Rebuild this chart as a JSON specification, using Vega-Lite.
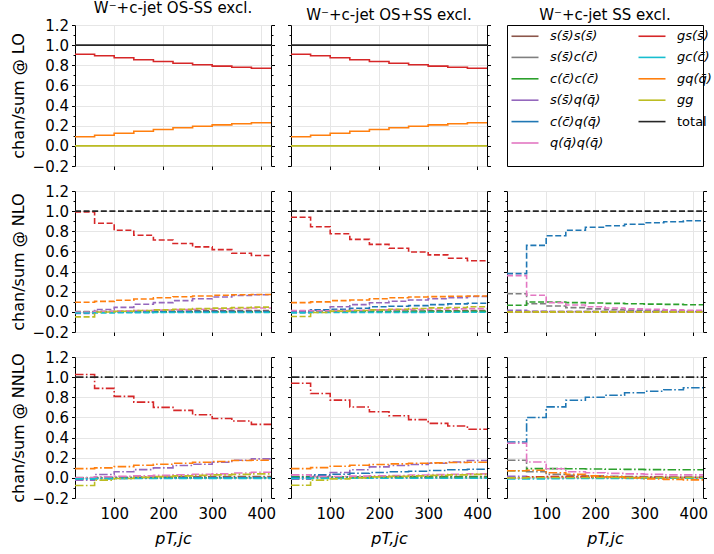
{
  "$schema": "https://vega.github.io/schema/vega-lite/v6.json",
  "padding": {"left": 9, "top": 0, "right": 2, "bottom": 2},
  "bounds": "flush",
  "columns": 3,
  "spacing": {"row": 25, "column": 20},
  "resolve": {"legend": {"color": "independent"}},
  "data": {"values": [
    {"p":"a1","k":"gs","x":20,"y":0.91},{"p":"a1","k":"gs","x":60,"y":0.895},{"p":"a1","k":"gs","x":100,"y":0.875},{"p":"a1","k":"gs","x":140,"y":0.855},{"p":"a1","k":"gs","x":180,"y":0.838},{"p":"a1","k":"gs","x":220,"y":0.82},{"p":"a1","k":"gs","x":260,"y":0.806},{"p":"a1","k":"gs","x":300,"y":0.792},{"p":"a1","k":"gs","x":340,"y":0.78},{"p":"a1","k":"gs","x":380,"y":0.77},{"p":"a1","k":"gs","x":420,"y":0.77},
    {"p":"a1","k":"gq","x":20,"y":0.09},{"p":"a1","k":"gq","x":60,"y":0.105},{"p":"a1","k":"gq","x":100,"y":0.125},{"p":"a1","k":"gq","x":140,"y":0.145},{"p":"a1","k":"gq","x":180,"y":0.162},{"p":"a1","k":"gq","x":220,"y":0.18},{"p":"a1","k":"gq","x":260,"y":0.194},{"p":"a1","k":"gq","x":300,"y":0.208},{"p":"a1","k":"gq","x":340,"y":0.22},{"p":"a1","k":"gq","x":380,"y":0.23},{"p":"a1","k":"gq","x":420,"y":0.23},
    {"p":"a1","k":"gg","x":20,"y":0},{"p":"a1","k":"gg","x":420,"y":0},
    {"p":"a1","k":"tot","x":20,"y":1},{"p":"a1","k":"tot","x":420,"y":1},

    {"p":"a2","k":"gs","x":20,"y":0.91},{"p":"a2","k":"gs","x":60,"y":0.895},{"p":"a2","k":"gs","x":100,"y":0.875},{"p":"a2","k":"gs","x":140,"y":0.855},{"p":"a2","k":"gs","x":180,"y":0.838},{"p":"a2","k":"gs","x":220,"y":0.82},{"p":"a2","k":"gs","x":260,"y":0.806},{"p":"a2","k":"gs","x":300,"y":0.792},{"p":"a2","k":"gs","x":340,"y":0.78},{"p":"a2","k":"gs","x":380,"y":0.77},{"p":"a2","k":"gs","x":420,"y":0.77},
    {"p":"a2","k":"gq","x":20,"y":0.09},{"p":"a2","k":"gq","x":60,"y":0.105},{"p":"a2","k":"gq","x":100,"y":0.125},{"p":"a2","k":"gq","x":140,"y":0.145},{"p":"a2","k":"gq","x":180,"y":0.162},{"p":"a2","k":"gq","x":220,"y":0.18},{"p":"a2","k":"gq","x":260,"y":0.194},{"p":"a2","k":"gq","x":300,"y":0.208},{"p":"a2","k":"gq","x":340,"y":0.22},{"p":"a2","k":"gq","x":380,"y":0.23},{"p":"a2","k":"gq","x":420,"y":0.23},
    {"p":"a2","k":"gg","x":20,"y":0},{"p":"a2","k":"gg","x":420,"y":0},
    {"p":"a2","k":"tot","x":20,"y":1},{"p":"a2","k":"tot","x":420,"y":1},

    {"p":"b1","k":"ss","x":20,"y":0},{"p":"b1","k":"ss","x":60,"y":0.002},{"p":"b1","k":"ss","x":100,"y":0.004},{"p":"b1","k":"ss","x":140,"y":0.006},{"p":"b1","k":"ss","x":180,"y":0.007},{"p":"b1","k":"ss","x":220,"y":0.009},{"p":"b1","k":"ss","x":260,"y":0.01},{"p":"b1","k":"ss","x":300,"y":0.011},{"p":"b1","k":"ss","x":340,"y":0.012},{"p":"b1","k":"ss","x":380,"y":0.013},{"p":"b1","k":"ss","x":420,"y":0.013},
    {"p":"b1","k":"sc","x":20,"y":0.002},{"p":"b1","k":"sc","x":420,"y":0.002},
    {"p":"b1","k":"cc","x":20,"y":0},{"p":"b1","k":"cc","x":420,"y":0},
    {"p":"b1","k":"sq","x":20,"y":-0.016},{"p":"b1","k":"sq","x":60,"y":0.024},{"p":"b1","k":"sq","x":100,"y":0.045},{"p":"b1","k":"sq","x":140,"y":0.075},{"p":"b1","k":"sq","x":180,"y":0.092},{"p":"b1","k":"sq","x":220,"y":0.112},{"p":"b1","k":"sq","x":260,"y":0.13},{"p":"b1","k":"sq","x":300,"y":0.147},{"p":"b1","k":"sq","x":340,"y":0.162},{"p":"b1","k":"sq","x":380,"y":0.17},{"p":"b1","k":"sq","x":420,"y":0.17},
    {"p":"b1","k":"cq","x":20,"y":-0.008},{"p":"b1","k":"cq","x":60,"y":-0.004},{"p":"b1","k":"cq","x":100,"y":-0.002},{"p":"b1","k":"cq","x":140,"y":0},{"p":"b1","k":"cq","x":180,"y":0.001},{"p":"b1","k":"cq","x":220,"y":0.002},{"p":"b1","k":"cq","x":260,"y":0.002},{"p":"b1","k":"cq","x":300,"y":0.003},{"p":"b1","k":"cq","x":340,"y":0.003},{"p":"b1","k":"cq","x":380,"y":0.003},{"p":"b1","k":"cq","x":420,"y":0.003},
    {"p":"b1","k":"qq","x":20,"y":-0.003},{"p":"b1","k":"qq","x":60,"y":0.004},{"p":"b1","k":"qq","x":100,"y":0.009},{"p":"b1","k":"qq","x":140,"y":0.014},{"p":"b1","k":"qq","x":180,"y":0.018},{"p":"b1","k":"qq","x":220,"y":0.022},{"p":"b1","k":"qq","x":260,"y":0.026},{"p":"b1","k":"qq","x":300,"y":0.03},{"p":"b1","k":"qq","x":340,"y":0.034},{"p":"b1","k":"qq","x":380,"y":0.038},{"p":"b1","k":"qq","x":420,"y":0.038},
    {"p":"b1","k":"gs","x":20,"y":0.993},{"p":"b1","k":"gs","x":60,"y":0.88},{"p":"b1","k":"gs","x":100,"y":0.81},{"p":"b1","k":"gs","x":140,"y":0.76},{"p":"b1","k":"gs","x":180,"y":0.714},{"p":"b1","k":"gs","x":220,"y":0.678},{"p":"b1","k":"gs","x":260,"y":0.645},{"p":"b1","k":"gs","x":300,"y":0.618},{"p":"b1","k":"gs","x":340,"y":0.582},{"p":"b1","k":"gs","x":380,"y":0.56},{"p":"b1","k":"gs","x":420,"y":0.56},
    {"p":"b1","k":"gc","x":20,"y":-0.012},{"p":"b1","k":"gc","x":60,"y":-0.01},{"p":"b1","k":"gc","x":100,"y":-0.009},{"p":"b1","k":"gc","x":140,"y":-0.008},{"p":"b1","k":"gc","x":180,"y":-0.007},{"p":"b1","k":"gc","x":220,"y":-0.007},{"p":"b1","k":"gc","x":260,"y":-0.006},{"p":"b1","k":"gc","x":420,"y":-0.006},
    {"p":"b1","k":"gq","x":20,"y":0.096},{"p":"b1","k":"gq","x":60,"y":0.104},{"p":"b1","k":"gq","x":100,"y":0.115},{"p":"b1","k":"gq","x":140,"y":0.127},{"p":"b1","k":"gq","x":180,"y":0.14},{"p":"b1","k":"gq","x":220,"y":0.15},{"p":"b1","k":"gq","x":260,"y":0.158},{"p":"b1","k":"gq","x":300,"y":0.165},{"p":"b1","k":"gq","x":340,"y":0.17},{"p":"b1","k":"gq","x":380,"y":0.173},{"p":"b1","k":"gq","x":420,"y":0.173},
    {"p":"b1","k":"gg","x":20,"y":-0.05},{"p":"b1","k":"gg","x":60,"y":-0.002},{"p":"b1","k":"gg","x":100,"y":0.006},{"p":"b1","k":"gg","x":140,"y":0.014},{"p":"b1","k":"gg","x":180,"y":0.02},{"p":"b1","k":"gg","x":220,"y":0.026},{"p":"b1","k":"gg","x":260,"y":0.032},{"p":"b1","k":"gg","x":300,"y":0.037},{"p":"b1","k":"gg","x":340,"y":0.042},{"p":"b1","k":"gg","x":380,"y":0.047},{"p":"b1","k":"gg","x":420,"y":0.047},
    {"p":"b1","k":"tot","x":20,"y":1},{"p":"b1","k":"tot","x":420,"y":1},

    {"p":"b2","k":"ss","x":20,"y":0.002},{"p":"b2","k":"ss","x":60,"y":0.004},{"p":"b2","k":"ss","x":100,"y":0.005},{"p":"b2","k":"ss","x":140,"y":0.006},{"p":"b2","k":"ss","x":180,"y":0.007},{"p":"b2","k":"ss","x":220,"y":0.008},{"p":"b2","k":"ss","x":260,"y":0.009},{"p":"b2","k":"ss","x":300,"y":0.01},{"p":"b2","k":"ss","x":340,"y":0.011},{"p":"b2","k":"ss","x":380,"y":0.012},{"p":"b2","k":"ss","x":420,"y":0.012},
    {"p":"b2","k":"sc","x":20,"y":0.01},{"p":"b2","k":"sc","x":60,"y":0.005},{"p":"b2","k":"sc","x":100,"y":0.004},{"p":"b2","k":"sc","x":140,"y":0.003},{"p":"b2","k":"sc","x":260,"y":0.002},{"p":"b2","k":"sc","x":420,"y":0.002},
    {"p":"b2","k":"cc","x":20,"y":0.006},{"p":"b2","k":"cc","x":420,"y":0.006},
    {"p":"b2","k":"sq","x":20,"y":-0.005},{"p":"b2","k":"sq","x":60,"y":0.02},{"p":"b2","k":"sq","x":100,"y":0.05},{"p":"b2","k":"sq","x":140,"y":0.072},{"p":"b2","k":"sq","x":180,"y":0.09},{"p":"b2","k":"sq","x":220,"y":0.105},{"p":"b2","k":"sq","x":260,"y":0.118},{"p":"b2","k":"sq","x":300,"y":0.13},{"p":"b2","k":"sq","x":340,"y":0.14},{"p":"b2","k":"sq","x":380,"y":0.152},{"p":"b2","k":"sq","x":420,"y":0.152},
    {"p":"b2","k":"cq","x":20,"y":0},{"p":"b2","k":"cq","x":60,"y":0.02},{"p":"b2","k":"cq","x":100,"y":0.026},{"p":"b2","k":"cq","x":140,"y":0.036},{"p":"b2","k":"cq","x":180,"y":0.05},{"p":"b2","k":"cq","x":220,"y":0.056},{"p":"b2","k":"cq","x":260,"y":0.062},{"p":"b2","k":"cq","x":300,"y":0.072},{"p":"b2","k":"cq","x":340,"y":0.079},{"p":"b2","k":"cq","x":380,"y":0.085},{"p":"b2","k":"cq","x":420,"y":0.085},
    {"p":"b2","k":"qq","x":20,"y":0.012},{"p":"b2","k":"qq","x":60,"y":0.01},{"p":"b2","k":"qq","x":100,"y":0.012},{"p":"b2","k":"qq","x":140,"y":0.015},{"p":"b2","k":"qq","x":180,"y":0.02},{"p":"b2","k":"qq","x":220,"y":0.022},{"p":"b2","k":"qq","x":260,"y":0.025},{"p":"b2","k":"qq","x":300,"y":0.028},{"p":"b2","k":"qq","x":340,"y":0.03},{"p":"b2","k":"qq","x":380,"y":0.032},{"p":"b2","k":"qq","x":420,"y":0.032},
    {"p":"b2","k":"gs","x":20,"y":0.94},{"p":"b2","k":"gs","x":60,"y":0.845},{"p":"b2","k":"gs","x":100,"y":0.776},{"p":"b2","k":"gs","x":140,"y":0.72},{"p":"b2","k":"gs","x":180,"y":0.67},{"p":"b2","k":"gs","x":220,"y":0.632},{"p":"b2","k":"gs","x":260,"y":0.595},{"p":"b2","k":"gs","x":300,"y":0.566},{"p":"b2","k":"gs","x":340,"y":0.533},{"p":"b2","k":"gs","x":380,"y":0.507},{"p":"b2","k":"gs","x":420,"y":0.507},
    {"p":"b2","k":"gc","x":20,"y":-0.01},{"p":"b2","k":"gc","x":60,"y":-0.007},{"p":"b2","k":"gc","x":100,"y":-0.006},{"p":"b2","k":"gc","x":140,"y":-0.005},{"p":"b2","k":"gc","x":300,"y":-0.004},{"p":"b2","k":"gc","x":420,"y":-0.004},
    {"p":"b2","k":"gq","x":20,"y":0.092},{"p":"b2","k":"gq","x":60,"y":0.099},{"p":"b2","k":"gq","x":100,"y":0.112},{"p":"b2","k":"gq","x":140,"y":0.118},{"p":"b2","k":"gq","x":180,"y":0.13},{"p":"b2","k":"gq","x":220,"y":0.14},{"p":"b2","k":"gq","x":260,"y":0.148},{"p":"b2","k":"gq","x":300,"y":0.151},{"p":"b2","k":"gq","x":340,"y":0.155},{"p":"b2","k":"gq","x":380,"y":0.158},{"p":"b2","k":"gq","x":420,"y":0.158},
    {"p":"b2","k":"gg","x":20,"y":-0.046},{"p":"b2","k":"gg","x":60,"y":-0.007},{"p":"b2","k":"gg","x":100,"y":0.007},{"p":"b2","k":"gg","x":140,"y":0.013},{"p":"b2","k":"gg","x":180,"y":0.02},{"p":"b2","k":"gg","x":220,"y":0.026},{"p":"b2","k":"gg","x":260,"y":0.033},{"p":"b2","k":"gg","x":300,"y":0.04},{"p":"b2","k":"gg","x":340,"y":0.043},{"p":"b2","k":"gg","x":380,"y":0.05},{"p":"b2","k":"gg","x":420,"y":0.05},
    {"p":"b2","k":"tot","x":20,"y":1},{"p":"b2","k":"tot","x":420,"y":1},

    {"p":"b3","k":"ss","x":20,"y":0.003},{"p":"b3","k":"ss","x":420,"y":0.003},
    {"p":"b3","k":"sc","x":20,"y":0.18},{"p":"b3","k":"sc","x":60,"y":0.08},{"p":"b3","k":"sc","x":100,"y":0.058},{"p":"b3","k":"sc","x":140,"y":0.042},{"p":"b3","k":"sc","x":180,"y":0.03},{"p":"b3","k":"sc","x":220,"y":0.022},{"p":"b3","k":"sc","x":260,"y":0.017},{"p":"b3","k":"sc","x":300,"y":0.013},{"p":"b3","k":"sc","x":340,"y":0.011},{"p":"b3","k":"sc","x":380,"y":0.01},{"p":"b3","k":"sc","x":420,"y":0.01},
    {"p":"b3","k":"cc","x":20,"y":0.065},{"p":"b3","k":"cc","x":60,"y":0.098},{"p":"b3","k":"cc","x":100,"y":0.098},{"p":"b3","k":"cc","x":140,"y":0.092},{"p":"b3","k":"cc","x":180,"y":0.088},{"p":"b3","k":"cc","x":220,"y":0.084},{"p":"b3","k":"cc","x":260,"y":0.08},{"p":"b3","k":"cc","x":300,"y":0.077},{"p":"b3","k":"cc","x":340,"y":0.074},{"p":"b3","k":"cc","x":380,"y":0.07},{"p":"b3","k":"cc","x":420,"y":0.07},
    {"p":"b3","k":"sq","x":20,"y":0.015},{"p":"b3","k":"sq","x":60,"y":0.005},{"p":"b3","k":"sq","x":100,"y":0.004},{"p":"b3","k":"sq","x":140,"y":0.003},{"p":"b3","k":"sq","x":220,"y":0.002},{"p":"b3","k":"sq","x":420,"y":0.002},
    {"p":"b3","k":"cq","x":20,"y":0.38},{"p":"b3","k":"cq","x":60,"y":0.66},{"p":"b3","k":"cq","x":100,"y":0.755},{"p":"b3","k":"cq","x":140,"y":0.81},{"p":"b3","k":"cq","x":180,"y":0.84},{"p":"b3","k":"cq","x":220,"y":0.855},{"p":"b3","k":"cq","x":260,"y":0.87},{"p":"b3","k":"cq","x":300,"y":0.885},{"p":"b3","k":"cq","x":340,"y":0.895},{"p":"b3","k":"cq","x":380,"y":0.905},{"p":"b3","k":"cq","x":420,"y":0.905},
    {"p":"b3","k":"qq","x":20,"y":0.36},{"p":"b3","k":"qq","x":60,"y":0.165},{"p":"b3","k":"qq","x":100,"y":0.092},{"p":"b3","k":"qq","x":140,"y":0.068},{"p":"b3","k":"qq","x":180,"y":0.05},{"p":"b3","k":"qq","x":220,"y":0.038},{"p":"b3","k":"qq","x":260,"y":0.03},{"p":"b3","k":"qq","x":300,"y":0.025},{"p":"b3","k":"qq","x":340,"y":0.02},{"p":"b3","k":"qq","x":380,"y":0.016},{"p":"b3","k":"qq","x":420,"y":0.016},
    {"p":"b3","k":"gs","x":20,"y":0},{"p":"b3","k":"gs","x":420,"y":0},
    {"p":"b3","k":"gc","x":20,"y":-0.002},{"p":"b3","k":"gc","x":420,"y":-0.002},
    {"p":"b3","k":"gq","x":20,"y":0},{"p":"b3","k":"gq","x":420,"y":0},
    {"p":"b3","k":"gg","x":20,"y":0},{"p":"b3","k":"gg","x":420,"y":0},
    {"p":"b3","k":"tot","x":20,"y":1},{"p":"b3","k":"tot","x":420,"y":1},

    {"p":"c1","k":"ss","x":20,"y":0},{"p":"c1","k":"ss","x":60,"y":0.003},{"p":"c1","k":"ss","x":100,"y":0.005},{"p":"c1","k":"ss","x":140,"y":0.007},{"p":"c1","k":"ss","x":180,"y":0.009},{"p":"c1","k":"ss","x":220,"y":0.01},{"p":"c1","k":"ss","x":260,"y":0.011},{"p":"c1","k":"ss","x":300,"y":0.012},{"p":"c1","k":"ss","x":340,"y":0.013},{"p":"c1","k":"ss","x":380,"y":0.014},{"p":"c1","k":"ss","x":420,"y":0.014},
    {"p":"c1","k":"sc","x":20,"y":0.002},{"p":"c1","k":"sc","x":420,"y":0.002},
    {"p":"c1","k":"cc","x":20,"y":0},{"p":"c1","k":"cc","x":420,"y":0},
    {"p":"c1","k":"sq","x":20,"y":-0.023},{"p":"c1","k":"sq","x":60,"y":0.033},{"p":"c1","k":"sq","x":100,"y":0.06},{"p":"c1","k":"sq","x":140,"y":0.082},{"p":"c1","k":"sq","x":180,"y":0.099},{"p":"c1","k":"sq","x":220,"y":0.122},{"p":"c1","k":"sq","x":260,"y":0.135},{"p":"c1","k":"sq","x":300,"y":0.155},{"p":"c1","k":"sq","x":340,"y":0.175},{"p":"c1","k":"sq","x":380,"y":0.188},{"p":"c1","k":"sq","x":420,"y":0.188},
    {"p":"c1","k":"cq","x":20,"y":-0.01},{"p":"c1","k":"cq","x":60,"y":-0.008},{"p":"c1","k":"cq","x":100,"y":-0.005},{"p":"c1","k":"cq","x":140,"y":-0.003},{"p":"c1","k":"cq","x":180,"y":-0.002},{"p":"c1","k":"cq","x":220,"y":0},{"p":"c1","k":"cq","x":300,"y":0.001},{"p":"c1","k":"cq","x":420,"y":0.001},
    {"p":"c1","k":"qq","x":20,"y":0},{"p":"c1","k":"qq","x":60,"y":0.01},{"p":"c1","k":"qq","x":100,"y":0.015},{"p":"c1","k":"qq","x":140,"y":0.02},{"p":"c1","k":"qq","x":180,"y":0.025},{"p":"c1","k":"qq","x":220,"y":0.03},{"p":"c1","k":"qq","x":260,"y":0.035},{"p":"c1","k":"qq","x":300,"y":0.04},{"p":"c1","k":"qq","x":340,"y":0.048},{"p":"c1","k":"qq","x":380,"y":0.055},{"p":"c1","k":"qq","x":420,"y":0.055},
    {"p":"c1","k":"gs","x":20,"y":1.026},{"p":"c1","k":"gs","x":60,"y":0.888},{"p":"c1","k":"gs","x":100,"y":0.809},{"p":"c1","k":"gs","x":140,"y":0.752},{"p":"c1","k":"gs","x":180,"y":0.7},{"p":"c1","k":"gs","x":220,"y":0.67},{"p":"c1","k":"gs","x":260,"y":0.627},{"p":"c1","k":"gs","x":300,"y":0.59},{"p":"c1","k":"gs","x":340,"y":0.564},{"p":"c1","k":"gs","x":380,"y":0.531},{"p":"c1","k":"gs","x":420,"y":0.531},
    {"p":"c1","k":"gc","x":20,"y":-0.01},{"p":"c1","k":"gc","x":60,"y":-0.008},{"p":"c1","k":"gc","x":100,"y":-0.007},{"p":"c1","k":"gc","x":140,"y":-0.006},{"p":"c1","k":"gc","x":220,"y":-0.005},{"p":"c1","k":"gc","x":420,"y":-0.005},
    {"p":"c1","k":"gq","x":20,"y":0.092},{"p":"c1","k":"gq","x":60,"y":0.099},{"p":"c1","k":"gq","x":100,"y":0.112},{"p":"c1","k":"gq","x":140,"y":0.125},{"p":"c1","k":"gq","x":180,"y":0.135},{"p":"c1","k":"gq","x":220,"y":0.145},{"p":"c1","k":"gq","x":260,"y":0.155},{"p":"c1","k":"gq","x":300,"y":0.162},{"p":"c1","k":"gq","x":340,"y":0.172},{"p":"c1","k":"gq","x":380,"y":0.175},{"p":"c1","k":"gq","x":420,"y":0.175},
    {"p":"c1","k":"gg","x":20,"y":-0.076},{"p":"c1","k":"gg","x":60,"y":-0.023},{"p":"c1","k":"gg","x":100,"y":-0.007},{"p":"c1","k":"gg","x":140,"y":0.005},{"p":"c1","k":"gg","x":180,"y":0.012},{"p":"c1","k":"gg","x":220,"y":0.02},{"p":"c1","k":"gg","x":260,"y":0.025},{"p":"c1","k":"gg","x":300,"y":0.03},{"p":"c1","k":"gg","x":340,"y":0.035},{"p":"c1","k":"gg","x":380,"y":0.04},{"p":"c1","k":"gg","x":420,"y":0.04},
    {"p":"c1","k":"tot","x":20,"y":1},{"p":"c1","k":"tot","x":420,"y":1},

    {"p":"c2","k":"ss","x":20,"y":0.005},{"p":"c2","k":"ss","x":60,"y":0.006},{"p":"c2","k":"ss","x":100,"y":0.007},{"p":"c2","k":"ss","x":140,"y":0.008},{"p":"c2","k":"ss","x":180,"y":0.009},{"p":"c2","k":"ss","x":220,"y":0.01},{"p":"c2","k":"ss","x":260,"y":0.011},{"p":"c2","k":"ss","x":300,"y":0.012},{"p":"c2","k":"ss","x":380,"y":0.013},{"p":"c2","k":"ss","x":420,"y":0.013},
    {"p":"c2","k":"sc","x":20,"y":0.012},{"p":"c2","k":"sc","x":60,"y":0.005},{"p":"c2","k":"sc","x":100,"y":0.004},{"p":"c2","k":"sc","x":140,"y":0.003},{"p":"c2","k":"sc","x":260,"y":0.002},{"p":"c2","k":"sc","x":420,"y":0.002},
    {"p":"c2","k":"cc","x":20,"y":0.01},{"p":"c2","k":"cc","x":60,"y":0.008},{"p":"c2","k":"cc","x":420,"y":0.008},
    {"p":"c2","k":"sq","x":20,"y":-0.013},{"p":"c2","k":"sq","x":60,"y":0.02},{"p":"c2","k":"sq","x":100,"y":0.053},{"p":"c2","k":"sq","x":140,"y":0.08},{"p":"c2","k":"sq","x":180,"y":0.109},{"p":"c2","k":"sq","x":220,"y":0.122},{"p":"c2","k":"sq","x":260,"y":0.132},{"p":"c2","k":"sq","x":300,"y":0.145},{"p":"c2","k":"sq","x":340,"y":0.158},{"p":"c2","k":"sq","x":380,"y":0.172},{"p":"c2","k":"sq","x":420,"y":0.172},
    {"p":"c2","k":"cq","x":20,"y":0.003},{"p":"c2","k":"cq","x":60,"y":0.03},{"p":"c2","k":"cq","x":100,"y":0.036},{"p":"c2","k":"cq","x":140,"y":0.046},{"p":"c2","k":"cq","x":180,"y":0.053},{"p":"c2","k":"cq","x":220,"y":0.06},{"p":"c2","k":"cq","x":260,"y":0.066},{"p":"c2","k":"cq","x":300,"y":0.073},{"p":"c2","k":"cq","x":340,"y":0.08},{"p":"c2","k":"cq","x":380,"y":0.086},{"p":"c2","k":"cq","x":420,"y":0.086},
    {"p":"c2","k":"qq","x":20,"y":0.03},{"p":"c2","k":"qq","x":60,"y":0.012},{"p":"c2","k":"qq","x":100,"y":0.014},{"p":"c2","k":"qq","x":140,"y":0.017},{"p":"c2","k":"qq","x":180,"y":0.02},{"p":"c2","k":"qq","x":220,"y":0.024},{"p":"c2","k":"qq","x":260,"y":0.028},{"p":"c2","k":"qq","x":300,"y":0.032},{"p":"c2","k":"qq","x":340,"y":0.036},{"p":"c2","k":"qq","x":380,"y":0.04},{"p":"c2","k":"qq","x":420,"y":0.04},
    {"p":"c2","k":"gs","x":20,"y":0.94},{"p":"c2","k":"gs","x":60,"y":0.838},{"p":"c2","k":"gs","x":100,"y":0.772},{"p":"c2","k":"gs","x":140,"y":0.703},{"p":"c2","k":"gs","x":180,"y":0.657},{"p":"c2","k":"gs","x":220,"y":0.617},{"p":"c2","k":"gs","x":260,"y":0.578},{"p":"c2","k":"gs","x":300,"y":0.541},{"p":"c2","k":"gs","x":340,"y":0.515},{"p":"c2","k":"gs","x":380,"y":0.482},{"p":"c2","k":"gs","x":420,"y":0.482},
    {"p":"c2","k":"gc","x":20,"y":-0.006},{"p":"c2","k":"gc","x":60,"y":-0.005},{"p":"c2","k":"gc","x":140,"y":-0.004},{"p":"c2","k":"gc","x":420,"y":-0.004},
    {"p":"c2","k":"gq","x":20,"y":0.092},{"p":"c2","k":"gq","x":60,"y":0.102},{"p":"c2","k":"gq","x":100,"y":0.115},{"p":"c2","k":"gq","x":140,"y":0.125},{"p":"c2","k":"gq","x":180,"y":0.132},{"p":"c2","k":"gq","x":220,"y":0.139},{"p":"c2","k":"gq","x":260,"y":0.145},{"p":"c2","k":"gq","x":300,"y":0.149},{"p":"c2","k":"gq","x":340,"y":0.152},{"p":"c2","k":"gq","x":380,"y":0.155},{"p":"c2","k":"gq","x":420,"y":0.155},
    {"p":"c2","k":"gg","x":20,"y":-0.073},{"p":"c2","k":"gg","x":60,"y":-0.023},{"p":"c2","k":"gg","x":100,"y":-0.01},{"p":"c2","k":"gg","x":140,"y":0},{"p":"c2","k":"gg","x":180,"y":0.01},{"p":"c2","k":"gg","x":220,"y":0.015},{"p":"c2","k":"gg","x":260,"y":0.02},{"p":"c2","k":"gg","x":300,"y":0.025},{"p":"c2","k":"gg","x":340,"y":0.03},{"p":"c2","k":"gg","x":380,"y":0.035},{"p":"c2","k":"gg","x":420,"y":0.035},
    {"p":"c2","k":"tot","x":20,"y":1},{"p":"c2","k":"tot","x":420,"y":1},

    {"p":"c3","k":"ss","x":20,"y":0.002},{"p":"c3","k":"ss","x":420,"y":0.002},
    {"p":"c3","k":"sc","x":20,"y":0.175},{"p":"c3","k":"sc","x":60,"y":0.06},{"p":"c3","k":"sc","x":100,"y":0.035},{"p":"c3","k":"sc","x":140,"y":0.025},{"p":"c3","k":"sc","x":180,"y":0.02},{"p":"c3","k":"sc","x":220,"y":0.015},{"p":"c3","k":"sc","x":260,"y":0.012},{"p":"c3","k":"sc","x":300,"y":0.01},{"p":"c3","k":"sc","x":340,"y":0.008},{"p":"c3","k":"sc","x":380,"y":0.007},{"p":"c3","k":"sc","x":420,"y":0.007},
    {"p":"c3","k":"cc","x":20,"y":0.07},{"p":"c3","k":"cc","x":60,"y":0.092},{"p":"c3","k":"cc","x":100,"y":0.092},{"p":"c3","k":"cc","x":140,"y":0.09},{"p":"c3","k":"cc","x":180,"y":0.088},{"p":"c3","k":"cc","x":220,"y":0.086},{"p":"c3","k":"cc","x":260,"y":0.084},{"p":"c3","k":"cc","x":300,"y":0.082},{"p":"c3","k":"cc","x":340,"y":0.081},{"p":"c3","k":"cc","x":380,"y":0.08},{"p":"c3","k":"cc","x":420,"y":0.08},
    {"p":"c3","k":"sq","x":20,"y":0.015},{"p":"c3","k":"sq","x":60,"y":0.006},{"p":"c3","k":"sq","x":100,"y":0.005},{"p":"c3","k":"sq","x":140,"y":0.004},{"p":"c3","k":"sq","x":220,"y":0.003},{"p":"c3","k":"sq","x":420,"y":0.003},
    {"p":"c3","k":"cq","x":20,"y":0.356},{"p":"c3","k":"cq","x":60,"y":0.6},{"p":"c3","k":"cq","x":100,"y":0.705},{"p":"c3","k":"cq","x":140,"y":0.77},{"p":"c3","k":"cq","x":180,"y":0.8},{"p":"c3","k":"cq","x":220,"y":0.82},{"p":"c3","k":"cq","x":260,"y":0.845},{"p":"c3","k":"cq","x":300,"y":0.86},{"p":"c3","k":"cq","x":340,"y":0.875},{"p":"c3","k":"cq","x":380,"y":0.895},{"p":"c3","k":"cq","x":420,"y":0.895},
    {"p":"c3","k":"qq","x":20,"y":0.343},{"p":"c3","k":"qq","x":60,"y":0.158},{"p":"c3","k":"qq","x":100,"y":0.09},{"p":"c3","k":"qq","x":140,"y":0.06},{"p":"c3","k":"qq","x":180,"y":0.05},{"p":"c3","k":"qq","x":220,"y":0.045},{"p":"c3","k":"qq","x":260,"y":0.04},{"p":"c3","k":"qq","x":300,"y":0.035},{"p":"c3","k":"qq","x":340,"y":0.03},{"p":"c3","k":"qq","x":420,"y":0.03},
    {"p":"c3","k":"gs","x":20,"y":0},{"p":"c3","k":"gs","x":60,"y":0.01},{"p":"c3","k":"gs","x":100,"y":0.012},{"p":"c3","k":"gs","x":180,"y":0.01},{"p":"c3","k":"gs","x":220,"y":0.008},{"p":"c3","k":"gs","x":260,"y":0.006},{"p":"c3","k":"gs","x":300,"y":0.005},{"p":"c3","k":"gs","x":340,"y":0.004},{"p":"c3","k":"gs","x":420,"y":0.004},
    {"p":"c3","k":"gc","x":20,"y":-0.012},{"p":"c3","k":"gc","x":60,"y":-0.01},{"p":"c3","k":"gc","x":100,"y":-0.008},{"p":"c3","k":"gc","x":140,"y":-0.007},{"p":"c3","k":"gc","x":180,"y":-0.006},{"p":"c3","k":"gc","x":220,"y":-0.005},{"p":"c3","k":"gc","x":300,"y":-0.004},{"p":"c3","k":"gc","x":420,"y":-0.004},
    {"p":"c3","k":"gq","x":20,"y":0.07},{"p":"c3","k":"gq","x":60,"y":0.075},{"p":"c3","k":"gq","x":100,"y":0.05},{"p":"c3","k":"gq","x":140,"y":0.035},{"p":"c3","k":"gq","x":180,"y":0.02},{"p":"c3","k":"gq","x":220,"y":0.01},{"p":"c3","k":"gq","x":260,"y":0},{"p":"c3","k":"gq","x":300,"y":-0.01},{"p":"c3","k":"gq","x":340,"y":-0.015},{"p":"c3","k":"gq","x":380,"y":-0.02},{"p":"c3","k":"gq","x":420,"y":-0.02},
    {"p":"c3","k":"gg","x":20,"y":0},{"p":"c3","k":"gg","x":60,"y":0.003},{"p":"c3","k":"gg","x":420,"y":0.003},
    {"p":"c3","k":"tot","x":20,"y":1},{"p":"c3","k":"tot","x":420,"y":1}
  ]},
  "concat": [
    {
      "width": 196, "height": 141,
      "title": "W\u207b+c-jet OS-SS excl.",
      "transform": [{"filter": "datum.p === 'a1'"}],
      "encoding": {
        "x": {"field": "x", "type": "quantitative", "scale": {"domain": [20, 420], "nice": false, "zero": false}, "axis": {"values": [100, 200, 300, 400], "labels": false, "title": null, "tickSize": 3.5}},
        "color": {"field": "k", "type": "nominal", "legend": null, "scale": {"domain": ["ss","sc","cc","sq","cq","qq","gs","gc","gq","gg","tot"], "range": ["#8c564b","#7f7f7f","#2ca02c","#9467bd","#1f77b4","#e377c2","#d62728","#17becf","#ff7f0e","#bcbd22","#262626"]}}
      },
      "layer": [
        {"transform": [{"filter": "datum.k !== 'tot'"}], "mark": {"type": "line", "interpolate": "step-after"},
         "encoding": {"y": {"field": "y", "type": "quantitative", "scale": {"domain": [-0.2, 1.2], "nice": false, "zero": false},
           "axis": {"values": [-0.2,-0.1,0,0.1,0.2,0.3,0.4,0.5,0.6,0.7,0.8,0.9,1,1.1,1.2], "title": "chan/sum @ LO", "labelExpr": "round(datum.value*10)%2 !== 0 ? '' : format(datum.value, '.1f')", "tickSize": {"condition": {"test": "round(datum.value*10)%2 !== 0", "value": 2}, "value": 3.5}, "gridOpacity": {"condition": {"test": "round(datum.value*10)%2 !== 0", "value": 0}, "value": 1}}}}},
        {"transform": [{"filter": "datum.k === 'tot'"}], "mark": {"type": "line", "interpolate": "step-after"},
         "encoding": {"y": {"field": "y", "type": "quantitative", "scale": {"domain": [-0.2, 1.2], "nice": false, "zero": false},
           "axis": {"orient": "right", "values": [-0.2,-0.1,0,0.1,0.2,0.3,0.4,0.5,0.6,0.7,0.8,0.9,1,1.1,1.2], "labels": false, "title": null, "grid": false, "tickSize": {"condition": {"test": "round(datum.value*10)%2 !== 0", "value": 2}, "value": 3.5}}}}}
      ],
      "resolve": {"axis": {"y": "independent"}}
    },
    {
      "width": 196, "height": 141,
      "title": "W\u207b+c-jet OS+SS excl.",
      "transform": [{"filter": "datum.p === 'a2'"}],
      "encoding": {
        "x": {"field": "x", "type": "quantitative", "scale": {"domain": [20, 420], "nice": false, "zero": false}, "axis": {"values": [100, 200, 300, 400], "labels": false, "title": null, "tickSize": 3.5}},
        "color": {"field": "k", "type": "nominal", "legend": null, "scale": {"domain": ["ss","sc","cc","sq","cq","qq","gs","gc","gq","gg","tot"], "range": ["#8c564b","#7f7f7f","#2ca02c","#9467bd","#1f77b4","#e377c2","#d62728","#17becf","#ff7f0e","#bcbd22","#262626"]}}
      },
      "layer": [
        {"transform": [{"filter": "datum.k !== 'tot'"}], "mark": {"type": "line", "interpolate": "step-after"},
         "encoding": {"y": {"field": "y", "type": "quantitative", "scale": {"domain": [-0.2, 1.2], "nice": false, "zero": false},
           "axis": {"values": [-0.2,-0.1,0,0.1,0.2,0.3,0.4,0.5,0.6,0.7,0.8,0.9,1,1.1,1.2], "labels": false, "title": null, "tickSize": {"condition": {"test": "round(datum.value*10)%2 !== 0", "value": 2}, "value": 3.5}, "gridOpacity": {"condition": {"test": "round(datum.value*10)%2 !== 0", "value": 0}, "value": 1}}}}},
        {"transform": [{"filter": "datum.k === 'tot'"}], "mark": {"type": "line", "interpolate": "step-after"},
         "encoding": {"y": {"field": "y", "type": "quantitative", "scale": {"domain": [-0.2, 1.2], "nice": false, "zero": false},
           "axis": {"orient": "right", "values": [-0.2,-0.1,0,0.1,0.2,0.3,0.4,0.5,0.6,0.7,0.8,0.9,1,1.1,1.2], "labels": false, "title": null, "grid": false, "tickSize": {"condition": {"test": "round(datum.value*10)%2 !== 0", "value": 2}, "value": 3.5}}}}}
      ],
      "resolve": {"axis": {"y": "independent"}}
    },
    {
      "width": 196, "height": 141,
      "title": "W\u207b+c-jet SS excl.",
      "transform": [{"filter": "datum.p === 'none'"}],
      "mark": {"type": "line"},
      "encoding": {
        "x": {"field": "x", "type": "quantitative", "scale": {"domain": [20, 420]}, "axis": null},
        "y": {"field": "y", "type": "quantitative", "scale": {"domain": [-0.2, 1.2]}, "axis": null},
        "color": {"field": "k", "type": "nominal",
          "scale": {"domain": ["ss","sc","cc","sq","cq","qq","gs","gc","gq","gg","tot"], "range": ["#8c564b","#7f7f7f","#2ca02c","#9467bd","#1f77b4","#e377c2","#d62728","#17becf","#ff7f0e","#bcbd22","#262626"]},
          "legend": {
            "orient": "none", "legendX": 11.5, "legendY": 4.5, "title": null, "columns": 2, "columnPadding": 31, "rowPadding": 7.4,
            "padding": 0, "symbolType": "M-2.7,0H2.7", "symbolSize": 100, "symbolStrokeWidth": 2, "labelOffset": 18.5,
            "labelFont": "DejaVu Sans", "labelFontSize": 13, "labelColor": "black",
            "labelFontStyle": {"expr": "datum.value === 'tot' ? 'normal' : 'italic'"},
            "labelExpr": "({ss:'s(s\u0304)s(s\u0304)', sc:'s(s\u0304)c(c\u0304)', cc:'c(c\u0304)c(c\u0304)', sq:'s(s\u0304)q(q\u0304)', cq:'c(c\u0304)q(q\u0304)', qq:'q(q\u0304)q(q\u0304)', gs:'gs(s\u0304)', gc:'gc(c\u0304)', gq:'gq(q\u0304)', gg:'gg', tot:'total'})[datum.label]"
          }}
      }
    },
    {
      "width": 196, "height": 141,
      "transform": [{"filter": "datum.p === 'b1'"}],
      "encoding": {
        "x": {"field": "x", "type": "quantitative", "scale": {"domain": [20, 420], "nice": false, "zero": false}, "axis": {"values": [100, 200, 300, 400], "labels": false, "title": null, "tickSize": 3.5}},
        "color": {"field": "k", "type": "nominal", "legend": null, "scale": {"domain": ["ss","sc","cc","sq","cq","qq","gs","gc","gq","gg","tot"], "range": ["#8c564b","#7f7f7f","#2ca02c","#9467bd","#1f77b4","#e377c2","#d62728","#17becf","#ff7f0e","#bcbd22","#262626"]}}
      },
      "layer": [
        {"transform": [{"filter": "datum.k !== 'tot'"}], "mark": {"type": "line", "interpolate": "step-after", "strokeDash": [6, 2.6]},
         "encoding": {"y": {"field": "y", "type": "quantitative", "scale": {"domain": [-0.2, 1.2], "nice": false, "zero": false},
           "axis": {"values": [-0.2,-0.1,0,0.1,0.2,0.3,0.4,0.5,0.6,0.7,0.8,0.9,1,1.1,1.2], "title": "chan/sum @ NLO", "labelExpr": "round(datum.value*10)%2 !== 0 ? '' : format(datum.value, '.1f')", "tickSize": {"condition": {"test": "round(datum.value*10)%2 !== 0", "value": 2}, "value": 3.5}, "gridOpacity": {"condition": {"test": "round(datum.value*10)%2 !== 0", "value": 0}, "value": 1}}}}},
        {"transform": [{"filter": "datum.k === 'tot'"}], "mark": {"type": "line", "interpolate": "step-after", "strokeDash": [6, 2.6]},
         "encoding": {"y": {"field": "y", "type": "quantitative", "scale": {"domain": [-0.2, 1.2], "nice": false, "zero": false},
           "axis": {"orient": "right", "values": [-0.2,-0.1,0,0.1,0.2,0.3,0.4,0.5,0.6,0.7,0.8,0.9,1,1.1,1.2], "labels": false, "title": null, "grid": false, "tickSize": {"condition": {"test": "round(datum.value*10)%2 !== 0", "value": 2}, "value": 3.5}}}}}
      ],
      "resolve": {"axis": {"y": "independent"}}
    },
    {
      "width": 196, "height": 141,
      "transform": [{"filter": "datum.p === 'b2'"}],
      "encoding": {
        "x": {"field": "x", "type": "quantitative", "scale": {"domain": [20, 420], "nice": false, "zero": false}, "axis": {"values": [100, 200, 300, 400], "labels": false, "title": null, "tickSize": 3.5}},
        "color": {"field": "k", "type": "nominal", "legend": null, "scale": {"domain": ["ss","sc","cc","sq","cq","qq","gs","gc","gq","gg","tot"], "range": ["#8c564b","#7f7f7f","#2ca02c","#9467bd","#1f77b4","#e377c2","#d62728","#17becf","#ff7f0e","#bcbd22","#262626"]}}
      },
      "layer": [
        {"transform": [{"filter": "datum.k !== 'tot'"}], "mark": {"type": "line", "interpolate": "step-after", "strokeDash": [6, 2.6]},
         "encoding": {"y": {"field": "y", "type": "quantitative", "scale": {"domain": [-0.2, 1.2], "nice": false, "zero": false},
           "axis": {"values": [-0.2,-0.1,0,0.1,0.2,0.3,0.4,0.5,0.6,0.7,0.8,0.9,1,1.1,1.2], "labels": false, "title": null, "tickSize": {"condition": {"test": "round(datum.value*10)%2 !== 0", "value": 2}, "value": 3.5}, "gridOpacity": {"condition": {"test": "round(datum.value*10)%2 !== 0", "value": 0}, "value": 1}}}}},
        {"transform": [{"filter": "datum.k === 'tot'"}], "mark": {"type": "line", "interpolate": "step-after", "strokeDash": [6, 2.6]},
         "encoding": {"y": {"field": "y", "type": "quantitative", "scale": {"domain": [-0.2, 1.2], "nice": false, "zero": false},
           "axis": {"orient": "right", "values": [-0.2,-0.1,0,0.1,0.2,0.3,0.4,0.5,0.6,0.7,0.8,0.9,1,1.1,1.2], "labels": false, "title": null, "grid": false, "tickSize": {"condition": {"test": "round(datum.value*10)%2 !== 0", "value": 2}, "value": 3.5}}}}}
      ],
      "resolve": {"axis": {"y": "independent"}}
    },
    {
      "width": 196, "height": 141,
      "transform": [{"filter": "datum.p === 'b3'"}],
      "encoding": {
        "x": {"field": "x", "type": "quantitative", "scale": {"domain": [20, 420], "nice": false, "zero": false}, "axis": {"values": [100, 200, 300, 400], "labels": false, "title": null, "tickSize": 3.5}},
        "color": {"field": "k", "type": "nominal", "legend": null, "scale": {"domain": ["ss","sc","cc","sq","cq","qq","gs","gc","gq","gg","tot"], "range": ["#8c564b","#7f7f7f","#2ca02c","#9467bd","#1f77b4","#e377c2","#d62728","#17becf","#ff7f0e","#bcbd22","#262626"]}}
      },
      "layer": [
        {"transform": [{"filter": "datum.k !== 'tot'"}], "mark": {"type": "line", "interpolate": "step-after", "strokeDash": [6, 2.6]},
         "encoding": {"y": {"field": "y", "type": "quantitative", "scale": {"domain": [-0.2, 1.2], "nice": false, "zero": false},
           "axis": {"values": [-0.2,-0.1,0,0.1,0.2,0.3,0.4,0.5,0.6,0.7,0.8,0.9,1,1.1,1.2], "labels": false, "title": null, "tickSize": {"condition": {"test": "round(datum.value*10)%2 !== 0", "value": 2}, "value": 3.5}, "gridOpacity": {"condition": {"test": "round(datum.value*10)%2 !== 0", "value": 0}, "value": 1}}}}},
        {"transform": [{"filter": "datum.k === 'tot'"}], "mark": {"type": "line", "interpolate": "step-after", "strokeDash": [6, 2.6]},
         "encoding": {"y": {"field": "y", "type": "quantitative", "scale": {"domain": [-0.2, 1.2], "nice": false, "zero": false},
           "axis": {"orient": "right", "values": [-0.2,-0.1,0,0.1,0.2,0.3,0.4,0.5,0.6,0.7,0.8,0.9,1,1.1,1.2], "labels": false, "title": null, "grid": false, "tickSize": {"condition": {"test": "round(datum.value*10)%2 !== 0", "value": 2}, "value": 3.5}}}}}
      ],
      "resolve": {"axis": {"y": "independent"}}
    },
    {
      "width": 196, "height": 141,
      "transform": [{"filter": "datum.p === 'c1'"}],
      "encoding": {
        "x": {"field": "x", "type": "quantitative", "scale": {"domain": [20, 420], "nice": false, "zero": false}, "axis": {"values": [100, 200, 300, 400], "title": "pT,jc", "titleFontStyle": "italic", "tickSize": 3.5, "labelPadding": 5, "titlePadding": 9}},
        "color": {"field": "k", "type": "nominal", "legend": null, "scale": {"domain": ["ss","sc","cc","sq","cq","qq","gs","gc","gq","gg","tot"], "range": ["#8c564b","#7f7f7f","#2ca02c","#9467bd","#1f77b4","#e377c2","#d62728","#17becf","#ff7f0e","#bcbd22","#262626"]}}
      },
      "layer": [
        {"transform": [{"filter": "datum.k !== 'tot'"}], "mark": {"type": "line", "interpolate": "step-after", "strokeDash": [8.5, 2.4, 1.6, 2.4]},
         "encoding": {"y": {"field": "y", "type": "quantitative", "scale": {"domain": [-0.2, 1.2], "nice": false, "zero": false},
           "axis": {"values": [-0.2,-0.1,0,0.1,0.2,0.3,0.4,0.5,0.6,0.7,0.8,0.9,1,1.1,1.2], "title": "chan/sum @ NNLO", "labelExpr": "round(datum.value*10)%2 !== 0 ? '' : format(datum.value, '.1f')", "tickSize": {"condition": {"test": "round(datum.value*10)%2 !== 0", "value": 2}, "value": 3.5}, "gridOpacity": {"condition": {"test": "round(datum.value*10)%2 !== 0", "value": 0}, "value": 1}}}}},
        {"transform": [{"filter": "datum.k === 'tot'"}], "mark": {"type": "line", "interpolate": "step-after", "strokeDash": [8.5, 2.4, 1.6, 2.4]},
         "encoding": {"y": {"field": "y", "type": "quantitative", "scale": {"domain": [-0.2, 1.2], "nice": false, "zero": false},
           "axis": {"orient": "right", "values": [-0.2,-0.1,0,0.1,0.2,0.3,0.4,0.5,0.6,0.7,0.8,0.9,1,1.1,1.2], "labels": false, "title": null, "grid": false, "tickSize": {"condition": {"test": "round(datum.value*10)%2 !== 0", "value": 2}, "value": 3.5}}}}}
      ],
      "resolve": {"axis": {"y": "independent"}}
    },
    {
      "width": 196, "height": 141,
      "transform": [{"filter": "datum.p === 'c2'"}],
      "encoding": {
        "x": {"field": "x", "type": "quantitative", "scale": {"domain": [20, 420], "nice": false, "zero": false}, "axis": {"values": [100, 200, 300, 400], "title": "pT,jc", "titleFontStyle": "italic", "tickSize": 3.5, "labelPadding": 5, "titlePadding": 9}},
        "color": {"field": "k", "type": "nominal", "legend": null, "scale": {"domain": ["ss","sc","cc","sq","cq","qq","gs","gc","gq","gg","tot"], "range": ["#8c564b","#7f7f7f","#2ca02c","#9467bd","#1f77b4","#e377c2","#d62728","#17becf","#ff7f0e","#bcbd22","#262626"]}}
      },
      "layer": [
        {"transform": [{"filter": "datum.k !== 'tot'"}], "mark": {"type": "line", "interpolate": "step-after", "strokeDash": [8.5, 2.4, 1.6, 2.4]},
         "encoding": {"y": {"field": "y", "type": "quantitative", "scale": {"domain": [-0.2, 1.2], "nice": false, "zero": false},
           "axis": {"values": [-0.2,-0.1,0,0.1,0.2,0.3,0.4,0.5,0.6,0.7,0.8,0.9,1,1.1,1.2], "labels": false, "title": null, "tickSize": {"condition": {"test": "round(datum.value*10)%2 !== 0", "value": 2}, "value": 3.5}, "gridOpacity": {"condition": {"test": "round(datum.value*10)%2 !== 0", "value": 0}, "value": 1}}}}},
        {"transform": [{"filter": "datum.k === 'tot'"}], "mark": {"type": "line", "interpolate": "step-after", "strokeDash": [8.5, 2.4, 1.6, 2.4]},
         "encoding": {"y": {"field": "y", "type": "quantitative", "scale": {"domain": [-0.2, 1.2], "nice": false, "zero": false},
           "axis": {"orient": "right", "values": [-0.2,-0.1,0,0.1,0.2,0.3,0.4,0.5,0.6,0.7,0.8,0.9,1,1.1,1.2], "labels": false, "title": null, "grid": false, "tickSize": {"condition": {"test": "round(datum.value*10)%2 !== 0", "value": 2}, "value": 3.5}}}}}
      ],
      "resolve": {"axis": {"y": "independent"}}
    },
    {
      "width": 196, "height": 141,
      "transform": [{"filter": "datum.p === 'c3'"}],
      "encoding": {
        "x": {"field": "x", "type": "quantitative", "scale": {"domain": [20, 420], "nice": false, "zero": false}, "axis": {"values": [100, 200, 300, 400], "title": "pT,jc", "titleFontStyle": "italic", "tickSize": 3.5, "labelPadding": 5, "titlePadding": 9}},
        "color": {"field": "k", "type": "nominal", "legend": null, "scale": {"domain": ["ss","sc","cc","sq","cq","qq","gs","gc","gq","gg","tot"], "range": ["#8c564b","#7f7f7f","#2ca02c","#9467bd","#1f77b4","#e377c2","#d62728","#17becf","#ff7f0e","#bcbd22","#262626"]}}
      },
      "layer": [
        {"transform": [{"filter": "datum.k !== 'tot'"}], "mark": {"type": "line", "interpolate": "step-after", "strokeDash": [8.5, 2.4, 1.6, 2.4]},
         "encoding": {"y": {"field": "y", "type": "quantitative", "scale": {"domain": [-0.2, 1.2], "nice": false, "zero": false},
           "axis": {"values": [-0.2,-0.1,0,0.1,0.2,0.3,0.4,0.5,0.6,0.7,0.8,0.9,1,1.1,1.2], "labels": false, "title": null, "tickSize": {"condition": {"test": "round(datum.value*10)%2 !== 0", "value": 2}, "value": 3.5}, "gridOpacity": {"condition": {"test": "round(datum.value*10)%2 !== 0", "value": 0}, "value": 1}}}}},
        {"transform": [{"filter": "datum.k === 'tot'"}], "mark": {"type": "line", "interpolate": "step-after", "strokeDash": [8.5, 2.4, 1.6, 2.4]},
         "encoding": {"y": {"field": "y", "type": "quantitative", "scale": {"domain": [-0.2, 1.2], "nice": false, "zero": false},
           "axis": {"orient": "right", "values": [-0.2,-0.1,0,0.1,0.2,0.3,0.4,0.5,0.6,0.7,0.8,0.9,1,1.1,1.2], "labels": false, "title": null, "grid": false, "tickSize": {"condition": {"test": "round(datum.value*10)%2 !== 0", "value": 2}, "value": 3.5}}}}}
      ],
      "resolve": {"axis": {"y": "independent"}}
    }
  ],
  "config": {
    "font": "DejaVu Sans",
    "background": "white",
    "view": {"stroke": "black", "strokeWidth": 1},
    "line": {"strokeWidth": 1.6},
    "axis": {"domain": false, "tickColor": "black", "tickWidth": 1, "labelColor": "black", "labelFont": "DejaVu Sans", "labelFontSize": 15, "labelPadding": 3,
             "titleFont": "DejaVu Sans", "titleFontSize": 16, "titleFontWeight": "normal", "titleColor": "black", "titlePadding": 6,
             "gridColor": "#e6e6e6", "gridWidth": 1},
    "title": {"font": "DejaVu Sans", "fontSize": 15, "fontWeight": "normal", "color": "black", "offset": 2, "anchor": "middle"}
  }
}
